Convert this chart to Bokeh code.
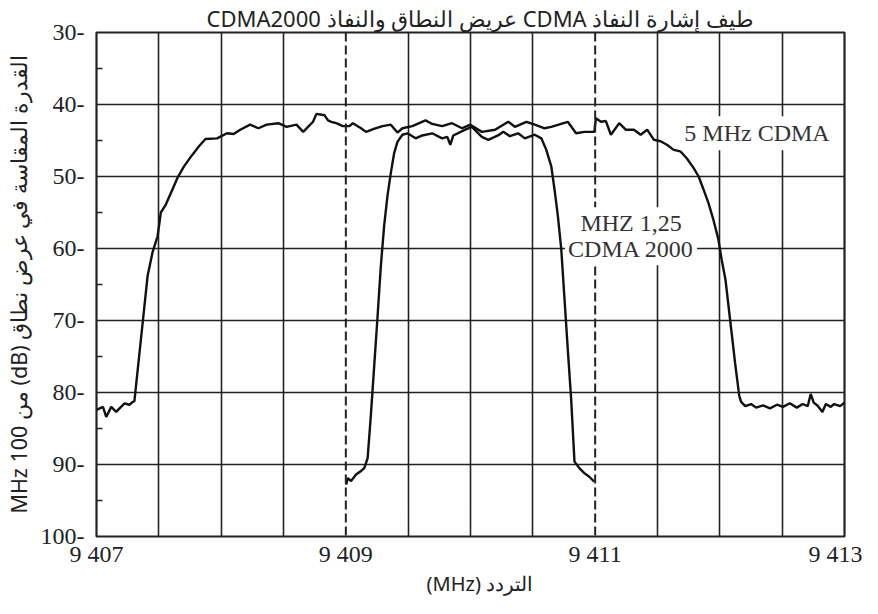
from bokeh.plotting import figure
from bokeh.models import Range1d, FixedTicker, Span, Label, Title
from bokeh.embed import file_html
from bokeh.resources import INLINE

# ---------------- data ----------------
title_text = "\u202bطيف إشارة النفاذ CDMA عريض النطاق والنفاذ CDMA2000\u202c"
x_label = "\u202bالتردد (MHz)\u202c"
y_label = "\u202bالقدرة المقاسة في عرض نطاق (dB) من 100 MHz\u202c"

x_ticks = [9407, 9409, 9411, 9413]
x_tick_labels = ["9 407", "9 409", "9 411", "9 413"]
x_grid = [9407.5, 9408, 9408.5, 9409, 9409.5, 9410, 9410.5, 9411, 9411.5, 9412, 9412.5]
channel_marks = [9409, 9411]          # dashed lines
y_ticks = [30, 40, 50, 60, 70, 80, 90, 100]
y_tick_labels = ["30-", "40-", "50-", "60-", "70-", "80-", "90-", "100-"]
y_minor = [35, 45, 55, 65, 75, 85, 95]

wide_freq = [9407.000, 9407.052, 9407.078, 9407.118, 9407.158, 9407.185, 9407.225, 9407.264,
             9407.291, 9407.304, 9407.410, 9407.450, 9407.490, 9407.516, 9407.556, 9407.609,
             9407.649, 9407.702, 9407.768, 9407.822, 9407.874, 9407.967, 9408.047, 9408.100,
             9408.153, 9408.232, 9408.299, 9408.365, 9408.459, 9408.525, 9408.604, 9408.658,
             9408.697, 9408.737, 9408.764, 9408.830, 9408.857, 9408.883, 9408.923, 9408.976,
             9409.029, 9409.056, 9409.122, 9409.162, 9409.225, 9409.295, 9409.361, 9409.414,
             9409.454, 9409.533, 9409.639, 9409.693, 9409.772, 9409.852, 9409.932, 9409.998,
             9410.091, 9410.197, 9410.303, 9410.356, 9410.449, 9410.515, 9410.595, 9410.648,
             9410.780, 9410.847, 9410.913, 9410.993, 9411.006, 9411.046, 9411.086, 9411.126,
             9411.193, 9411.245, 9411.311, 9411.365, 9411.417, 9411.471, 9411.524, 9411.576,
             9411.630, 9411.683, 9411.736, 9411.789, 9411.830, 9411.869, 9411.909, 9411.948,
             9411.988, 9412.014, 9412.045, 9412.083, 9412.123, 9412.156, 9412.171, 9412.204,
             9412.251, 9412.291, 9412.347, 9412.402, 9412.458, 9412.506, 9412.561, 9412.617,
             9412.665, 9412.705, 9412.729, 9412.753, 9412.783, 9412.823, 9412.850, 9412.890,
             9412.917, 9412.965, 9413.000]
wide_db = [82.4, 82.0, 83.4, 82.0, 82.7, 82.2, 81.5, 81.7,
           81.3, 81.2, 63.8, 60.5, 58.3, 55.0, 53.9, 51.8,
           50.2, 48.6, 47.0, 45.8, 44.8, 44.7, 44.0, 44.1,
           43.5, 42.8, 43.3, 42.8, 42.6, 43.1, 42.8, 43.8,
           43.1, 42.4, 41.3, 41.5, 42.2, 42.4, 42.6, 43.0,
           43.0, 42.6, 43.3, 43.8, 43.4, 43.0, 42.8, 43.9,
           43.3, 43.0, 42.2, 42.7, 43.0, 42.6, 43.3, 42.8,
           43.8, 43.5, 42.4, 43.1, 42.4, 42.8, 43.3, 43.1,
           42.4, 44.0, 43.8, 43.8, 41.9, 42.4, 42.3, 44.2,
           42.6, 43.5, 43.5, 44.2, 43.5, 44.9, 45.1, 45.6,
           46.3, 46.5, 47.5, 48.8, 50.0, 51.8, 53.7, 56.0,
           58.7, 61.5, 64.3, 70.0, 76.0, 80.5, 81.3, 81.9,
           81.6, 82.1, 81.8, 82.2, 81.7, 82.0, 81.5, 82.1,
           81.6, 81.9, 80.2, 81.4, 81.8, 82.7, 81.6, 82.0,
           81.6, 81.9, 81.4]

narrow_freq = [9409.002, 9409.016, 9409.042, 9409.082, 9409.122, 9409.148, 9409.175, 9409.201,
               9409.228, 9409.255, 9409.281, 9409.307, 9409.334, 9409.361, 9409.387, 9409.414,
               9409.454, 9409.494, 9409.560, 9409.613, 9409.693, 9409.772, 9409.814, 9409.838,
               9409.862, 9409.958, 9410.011, 9410.091, 9410.143, 9410.221, 9410.263, 9410.316,
               9410.382, 9410.436, 9410.515, 9410.568, 9410.608, 9410.648, 9410.674, 9410.701,
               9410.728, 9410.754, 9410.780, 9410.807, 9410.834, 9410.873, 9410.913, 9410.953,
               9410.993]
narrow_db = [92.8, 91.9, 92.3, 91.4, 90.9, 90.5, 89.1, 83.1,
             76.2, 69.3, 62.4, 56.9, 52.7, 49.5, 46.8, 45.2,
             44.2, 44.0, 44.7, 44.3, 44.0, 44.7, 44.5, 45.6,
             44.3, 43.5, 43.1, 44.5, 44.9, 44.3, 43.8, 44.4,
             44.0, 44.7, 44.2, 44.7, 46.3, 48.6, 51.8, 55.5,
             60.1, 67.0, 73.9, 80.8, 89.6, 90.5, 91.2, 91.7,
             92.4]

label_wide = "5 MHz CDMA"
label_narrow = "MHZ 1,25\nCDMA 2000"

# ---------------- figure ----------------
SANS = "Noto Sans"
SERIF = "Liberation Serif"
INK = "#222222"

p = figure(width=862, height=598, output_backend="svg", toolbar_location=None,
           x_range=Range1d(x_ticks[0], x_ticks[-1]),
           y_range=Range1d(y_ticks[-1], y_ticks[0]),
           min_border_left=90, min_border_right=18, min_border_top=24, min_border_bottom=0,
           title=title_text)

p.title.text_font = SANS
p.title.text_font_size = "22px"
p.title.text_font_style = "normal"
p.title.text_color = INK
p.title.align = "left"
p.title.offset = 110
p.title.standoff = 0
p.title.text_line_height = 0.9

p.outline_line_color = INK
p.outline_line_width = 2.2
p.background_fill_color = "white"
p.border_fill_color = "white"

# x axis
xa = p.xaxis[0]
xa.ticker = FixedTicker(ticks=x_ticks)
xa.major_label_overrides = {t: s for t, s in zip(x_ticks, x_tick_labels)}
xa.axis_line_color = None
xa.major_tick_line_color = None
xa.major_tick_out = 0
xa.major_tick_in = 0
xa.minor_tick_line_color = None
xa.minor_tick_out = 0
xa.major_label_standoff = 4
xa.major_label_text_font = SERIF
xa.major_label_text_font_size = "24px"
xa.major_label_text_color = INK

# x-axis title, in the panel below the tick labels
p.add_layout(Title(text=x_label, align="left", offset=330, standoff=0, vertical_align="top",
                   text_font=SANS, text_font_size="20px", text_font_style="normal",
                   text_color=INK, text_line_height=0.9), "below")

# y axis
ya = p.yaxis[0]
ya.ticker = FixedTicker(ticks=y_ticks, minor_ticks=y_minor)
ya.major_label_overrides = {t: s for t, s in zip(y_ticks, y_tick_labels)}
ya.axis_line_color = None
ya.major_tick_line_color = None
ya.major_tick_out = 0
ya.major_tick_in = 0
ya.minor_tick_in = 6
ya.minor_tick_out = 0
ya.minor_tick_line_color = INK
ya.minor_tick_line_width = 1.5
ya.major_label_standoff = 12
ya.major_label_text_font = SERIF
ya.major_label_text_font_size = "24px"
ya.major_label_text_color = INK
ya.axis_label = y_label
ya.axis_label_text_font = SANS
ya.axis_label_text_font_size = "21.5px"
ya.axis_label_text_font_style = "normal"
ya.axis_label_text_color = INK
ya.axis_label_standoff = 5

# grids
p.xgrid.ticker = FixedTicker(ticks=[g for g in x_grid if g not in channel_marks])
p.xgrid.grid_line_color = INK
p.xgrid.grid_line_width = 1.6
p.ygrid.ticker = FixedTicker(ticks=y_ticks[1:-1])
p.ygrid.grid_line_color = INK
p.ygrid.grid_line_width = 1.6

for m in channel_marks:
    p.add_layout(Span(location=m, dimension="height", line_color=INK,
                      line_width=2.0, line_dash="9 4"))

# curves
p.line(wide_freq, wide_db, line_color="#111111", line_width=2.4)
p.line(narrow_freq, narrow_db, line_color="#111111", line_width=2.4)

# annotations
p.add_layout(Label(x=9411.683, y=44.0, text=label_wide, text_font=SERIF,
                   text_font_size="24px", text_color="#333333",
                   text_align="left", text_baseline="middle",
                   background_fill_color="white", padding=4))
p.add_layout(Label(x=9411.288, y=58.3, text=label_narrow, text_font=SERIF,
                   text_font_size="24px", text_color="#333333",
                   text_align="center", text_baseline="middle", text_line_height=1.0,
                   background_fill_color="white", padding=3))

open("out.html", "w").write(file_html(p, INLINE))
